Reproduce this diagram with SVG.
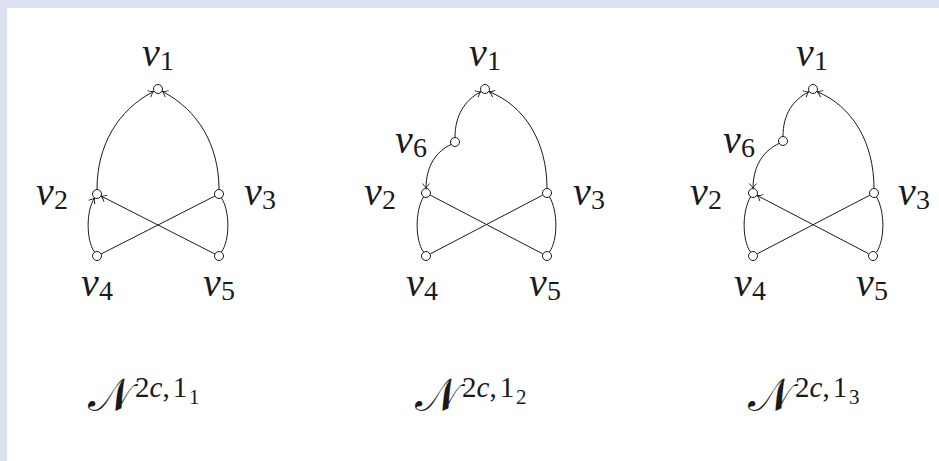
<svg xmlns="http://www.w3.org/2000/svg" width="939" height="461" viewBox="0 0 939 461">
<style>
.bg{fill:#dde0ee}
.e{fill:none;stroke:#1a1a1a;stroke-width:1}
.n{fill:#fff;stroke:#1a1a1a;stroke-width:1}
.lbl{font-family:"Liberation Serif","DejaVu Serif",serif;font-style:italic;font-size:40px;fill:#1a1a1a;text-anchor:middle}
.sub{font-style:normal;font-size:28px}
.cap{font-family:"Liberation Serif","DejaVu Serif",serif;fill:#1a1a1a}
.calN{font-family:"DejaVu Serif","DejaVu Sans","Noto Sans",serif;font-size:46px}
.sup{font-size:29px}
.ssub{font-size:21px}
.it{font-style:italic}
</style>
<defs>
<marker id="to" viewBox="-7 -5 9 10" refX="0" refY="0" markerWidth="9" markerHeight="10" markerUnits="userSpaceOnUse" orient="auto">
<path d="M-5,-3.6 Q-1.8,-0.6 0,0 Q-1.8,0.6 -5,3.6" fill="none" stroke="#1a1a1a" stroke-width="0.9"/>
</marker>
</defs>
<rect x="0" y="0" width="939" height="461" fill="#fff"/>
<rect class="bg" x="0" y="0" width="939" height="8"/>
<rect class="bg" x="0" y="0" width="7" height="461"/>

<g id="connectors">
<!-- graph 1 -->
<path class="e" d="M97,189.5 C97,145 118,110 153.5,91.5" marker-end="url(#to)"/>
<path class="e" d="M219,189.5 C219,145 198,110 162.5,91.5" marker-end="url(#to)"/>
<path class="e" d="M94.5,252 C86,240 86,211 94.5,198" marker-end="url(#to)"/>
<path class="e" d="M214.9,254 L101.2,196.1" marker-end="url(#to)"/>
<path class="e" d="M101.1,254 L214.9,196"/>
<path class="e" d="M221.5,198 C230,211 230,240 221.5,252"/>
<!-- graph 2 -->
<path class="e" d="M455,137.5 C455,115 465,100 480.8,91.8" marker-end="url(#to)"/>
<path class="e" d="M547,188.5 C547,142 525,106 489.3,91.8" marker-end="url(#to)"/>
<path class="e" d="M451,144.5 C437,151 426,165 426,188.5" marker-end="url(#to)"/>
<path class="e" d="M423.5,252 C415,240 415,211 423.5,197"/>
<path class="e" d="M430.4,195.2 L542.6,253.8"/>
<path class="e" d="M430.4,253.8 L542.6,195.2"/>
<path class="e" d="M549.5,197 C558,211 558,240 549.5,252"/>
<!-- graph 3 -->
<path class="e" d="M783,136.5 C783,114 793,100 808.8,91.8" marker-end="url(#to)"/>
<path class="e" d="M874,188.5 C874,142 852,106 817.3,91.8" marker-end="url(#to)"/>
<path class="e" d="M779,143.5 C765,150 753,164 753,188.5" marker-end="url(#to)"/>
<path class="e" d="M750.5,252 C742,240 742,211 750.5,197"/>
<path class="e" d="M868.6,253.7 L757.2,195.5" marker-end="url(#to)"/>
<path class="e" d="M757.4,253.7 L869.6,195.3"/>
<path class="e" d="M876.5,197 C885,211 885,240 876.5,252"/>
</g>

<g id="g1-v1"><circle class="n" cx="158" cy="89" r="4.5"/><text class="lbl" x="158" y="66">v<tspan class="sub" dy="4">1</tspan></text></g>
<g id="g1-v2"><circle class="n" cx="97" cy="194" r="4.5"/><text class="lbl" x="52" y="205">v<tspan class="sub" dy="4">2</tspan></text></g>
<g id="g1-v3"><circle class="n" cx="219" cy="194" r="4.5"/><text class="lbl" x="260" y="205">v<tspan class="sub" dy="4">3</tspan></text></g>
<g id="g1-v4"><circle class="n" cx="97" cy="256" r="4.5"/><text class="lbl" x="97" y="296">v<tspan class="sub" dy="4">4</tspan></text></g>
<g id="g1-v5"><circle class="n" cx="219" cy="256" r="4.5"/><text class="lbl" x="219" y="296">v<tspan class="sub" dy="4">5</tspan></text></g>

<g id="g2-v1"><circle class="n" cx="485" cy="89" r="4.5"/><text class="lbl" x="485" y="66">v<tspan class="sub" dy="4">1</tspan></text></g>
<g id="g2-v6"><circle class="n" cx="455" cy="142" r="4.5"/><text class="lbl" x="411" y="153">v<tspan class="sub" dy="4">6</tspan></text></g>
<g id="g2-v2"><circle class="n" cx="426" cy="193" r="4.5"/><text class="lbl" x="380" y="205">v<tspan class="sub" dy="4">2</tspan></text></g>
<g id="g2-v3"><circle class="n" cx="547" cy="193" r="4.5"/><text class="lbl" x="589" y="205">v<tspan class="sub" dy="4">3</tspan></text></g>
<g id="g2-v4"><circle class="n" cx="426" cy="256" r="4.5"/><text class="lbl" x="422" y="296">v<tspan class="sub" dy="4">4</tspan></text></g>
<g id="g2-v5"><circle class="n" cx="547" cy="256" r="4.5"/><text class="lbl" x="545" y="296">v<tspan class="sub" dy="4">5</tspan></text></g>

<g id="g3-v1"><circle class="n" cx="813" cy="89" r="4.5"/><text class="lbl" x="812" y="66">v<tspan class="sub" dy="4">1</tspan></text></g>
<g id="g3-v6"><circle class="n" cx="783" cy="141" r="4.5"/><text class="lbl" x="739" y="153">v<tspan class="sub" dy="4">6</tspan></text></g>
<g id="g3-v2"><circle class="n" cx="753" cy="193" r="4.5"/><text class="lbl" x="706" y="205">v<tspan class="sub" dy="4">2</tspan></text></g>
<g id="g3-v3"><circle class="n" cx="874" cy="193" r="4.5"/><text class="lbl" x="914" y="205">v<tspan class="sub" dy="4">3</tspan></text></g>
<g id="g3-v4"><circle class="n" cx="753" cy="256" r="4.5"/><text class="lbl" x="750" y="296">v<tspan class="sub" dy="4">4</tspan></text></g>
<g id="g3-v5"><circle class="n" cx="873" cy="256" r="4.5"/><text class="lbl" x="872" y="296">v<tspan class="sub" dy="4">5</tspan></text></g>

<g id="caption1"><text class="cap" x="88" y="411"><tspan class="calN">𝒩</tspan><tspan class="sup" x="135" y="397">2<tspan class="it">c</tspan>,<tspan dx="3">1</tspan></tspan><tspan class="ssub" x="189" y="404">1</tspan></text></g>
<g id="caption2"><text class="cap" x="415" y="411"><tspan class="calN">𝒩</tspan><tspan class="sup" x="462" y="397">2<tspan class="it">c</tspan>,<tspan dx="3">1</tspan></tspan><tspan class="ssub" x="516" y="404">2</tspan></text></g>
<g id="caption3"><text class="cap" x="748" y="411"><tspan class="calN">𝒩</tspan><tspan class="sup" x="795" y="397">2<tspan class="it">c</tspan>,<tspan dx="3">1</tspan></tspan><tspan class="ssub" x="849" y="404">3</tspan></text></g>
</svg>
